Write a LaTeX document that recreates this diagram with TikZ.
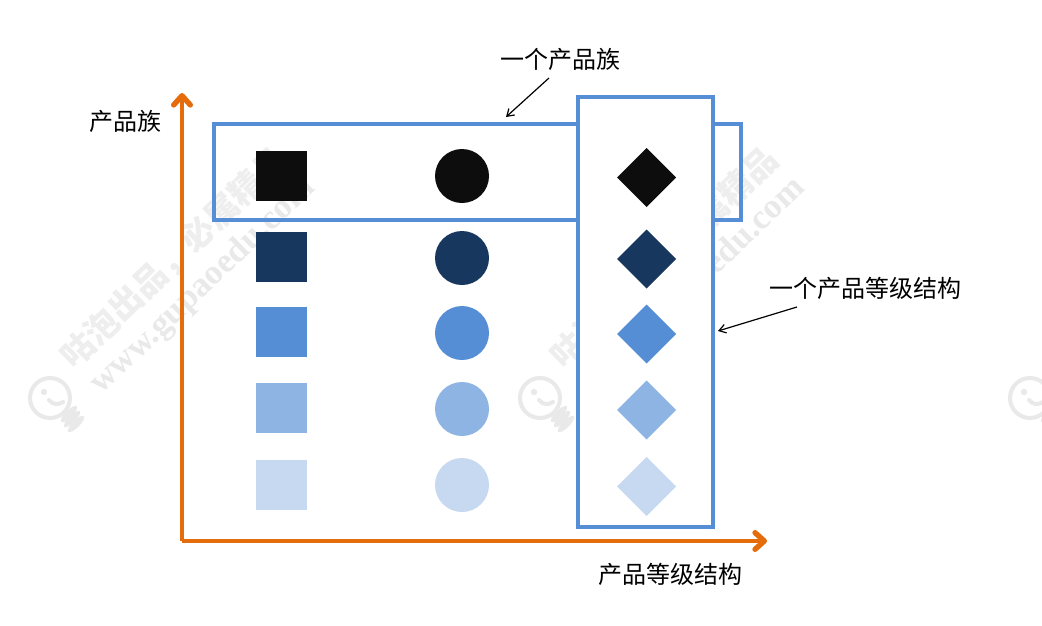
\documentclass[tikz,border=0pt]{standalone}
\usepackage{fontspec}
\setmainfont{Noto Sans CJK SC}
\newfontfamily\wmlatin{Liberation Serif}
\usetikzlibrary{arrows.meta}
\definecolor{axisor}{HTML}{E46C0A}
\definecolor{boxblue}{HTML}{558ED5}
\definecolor{shA}{HTML}{0D0D0D}
\definecolor{shB}{HTML}{17375E}
\definecolor{shC}{HTML}{558ED5}
\definecolor{shD}{HTML}{8EB4E3}
\definecolor{shE}{HTML}{C6D9F1}
\definecolor{wm}{HTML}{E9E9E9}
\definecolor{wmlight}{HTML}{EEEEEE}
\tikzset{
 x=0.75pt,y=-0.75pt,
 lab/.style={font=\fontsize{18}{20}\selectfont,inner sep=0pt,text=black},
 sq/.style={fill=#1,draw=none,minimum size=38pt,inner sep=0pt,shape=rectangle},
 ci/.style={fill=#1,draw=none,minimum size=40.5pt,inner sep=0pt,shape=circle},
 di/.style={fill=#1,draw=none},
 frameb/.style={draw=boxblue,line width=2.7pt,inner sep=0pt,shape=rectangle},
 axisl/.style={draw=axisor,line width=3pt,-{Straight Barb[length=7pt,width=12.5pt,line width=4pt,round]}},
 callout/.style={draw=black,line width=0.9pt,-{Straight Barb[length=5pt,width=6.5pt,line width=0.9pt]}},
 wmt/.style={text=wmlight,font=\fontsize{25}{28}\selectfont\bfseries,inner sep=0pt,anchor=west,rotate=44},
 wmu/.style={text=wm,font=\wmlatin\fontsize{26}{28}\selectfont\bfseries,inner sep=0pt,anchor=west,rotate=43.7},
}
\newcommand{\wmlogo}[1]{%
 \begin{scope}[shift={(#1,0)}]
  \draw[wm,line width=3pt] (50,398) circle[radius=20];
  \fill[wm] (44,392) circle[radius=3.2];
  \draw[wm,line width=3pt,line cap=round] (49,400) .. controls (53,405) and (58,405) .. (63,402);
  \foreach \cx/\cy in {69/414,72/419,76/424}{\fill[wm,rotate around={45:(\cx,\cy)}] (\cx,\cy) ellipse[x radius=11,y radius=3.6];}
 \end{scope}}
\newcommand{\wmtext}[2]{%
 \begin{scope}[shift={(#1,0)}]
  \node[wmt] (#2a) at (66,362) {咕泡出品，必属精品};
  \node[wmu] (#2b) at (96,389) {www.gupaoedu.com};
 \end{scope}}
\begin{document}
\begin{tikzpicture}
\useasboundingbox (0,0) rectangle (1042,625);
\fill[white] (0,0) rectangle (1042,625);
\begin{scope}
\clip (0,0) rectangle (1042,625);
\wmlogo{0}
\wmtext{0}{wa}
\wmlogo{490}
\wmtext{490}{wb}
\wmlogo{980}
\end{scope}
% family frame
\node[frameb,minimum width=395pt,minimum height=72pt] (fam) at (477.5,172) {};
% level frame
\node[frameb,fill=white,minimum width=101.25pt,minimum height=322.5pt] (lev) at (645.5,312) {};
% axes
\coordinate (org) at (182,541);
\coordinate (ytop) at (182,93);
\coordinate (xend) at (767,541);
\draw[axisl] (org) -- (ytop);
\draw[axisl] (org) -- (xend);
% shapes
\node[sq=shA] (s1) at (281.3,176) {};
\node[sq=shB] (s2) at (281.3,257) {};
\node[sq=shC] (s3) at (281.3,332) {};
\node[sq=shD] (s4) at (281.3,408) {};
\node[sq=shE] (s5) at (281.3,485) {};
\node[ci=shA] (c1) at (462,176) {};
\node[ci=shB] (c2) at (462,258) {};
\node[ci=shC] (c3) at (462,333) {};
\node[ci=shD] (c4) at (462,409) {};
\node[ci=shE] (c5) at (462,485) {};
\foreach \yy/\cc in {177.5/shA,259/shB,334/shC,410/shD,486.5/shE}{
 \fill[di=\cc] (646.5,\yy-29.5) -- (676,\yy) -- (646.5,\yy+29.5) -- (617,\yy) -- cycle;}
% labels
\node[lab] (t1) at (560,59) {一个产品族};
\node[lab] (t2) at (125.5,121) {产品族};
\node[lab] (t3) at (865,288) {一个产品等级结构};
\node[lab] (t4) at (670,574) {产品等级结构};
\coordinate (a1s) at (549,78);
\coordinate (a1e) at (506,117);
\coordinate (a2s) at (797,307);
\coordinate (a2e) at (718,331);
\draw[callout] (a1s) -- (a1e);
\draw[callout] (a2s) -- (a2e);
\end{tikzpicture}
\end{document}
